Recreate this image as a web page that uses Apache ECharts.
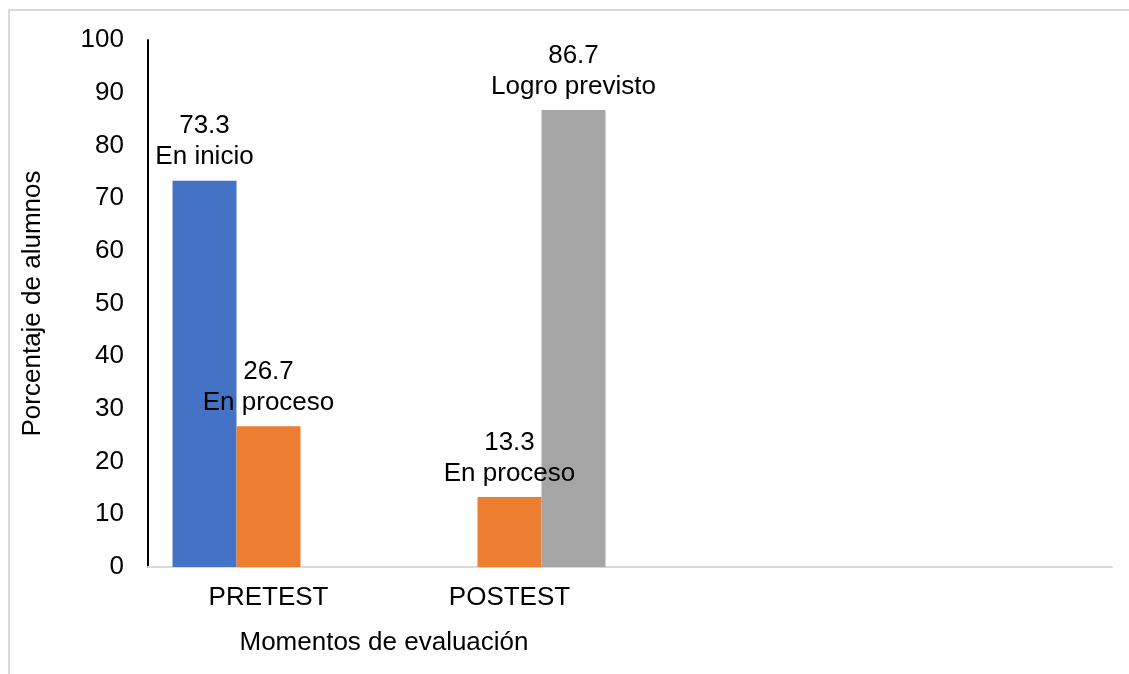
<!DOCTYPE html>
<html>
<head>
<meta charset="utf-8">
<script src="https://cdn.jsdelivr.net/npm/echarts@6/dist/echarts.min.js"></script>
<style>html,body{margin:0;padding:0;background:#fff;}#c{width:1129px;height:674px;}</style>
</head>
<body>
<div id="c"></div>
<script>
const categories = ['PRETEST', 'POSTEST', '', ''];
const seriesNames = ['En inicio', 'En proceso', 'Logro previsto'];
const enInicio = [73.3, null, null, null];
const enProceso = [26.7, 13.3, null, null];
const logroPrevisto = [null, 86.7, null, null];
const yTicks = [0, 100, 10];

const colors = ['#4472C4', '#ED7D31', '#A5A5A5'];
const font = 'Liberation Sans, Arial, sans-serif';
const chart = echarts.init(document.getElementById('c'), null, {renderer: 'canvas'});

function bar(name, data, color) {
  return {
    name: name,
    type: 'bar',
    data: data,
    barWidth: 64,
    barGap: '0%',
    itemStyle: {color: color},
    label: {
      show: true,
      position: 'top',
      distance: 8,
      formatter: p => p.value == null ? '' : p.value.toFixed(1) + '\n' + p.seriesName,
      color: '#000',
      fontSize: 26,
      lineHeight: 31,
      fontFamily: font
    }
  };
}

chart.setOption({
  animation: false,
  grid: {left: 148, right: 17, top: 40, bottom: 107},
  xAxis: {
    type: 'category',
    data: categories,
    axisLine: {lineStyle: {color: '#D9D9D9', width: 2}},
    axisTick: {show: false},
    axisLabel: {color: '#000', fontSize: 26, fontFamily: font, margin: 18}
  },
  yAxis: {
    type: 'value',
    min: yTicks[0], max: yTicks[1], interval: yTicks[2],
    name: 'Porcentaje de alumnos',
    nameLocation: 'middle',
    nameGap: 102,
    nameTextStyle: {color: '#000', fontSize: 26, fontFamily: font},
    axisLine: {show: true, lineStyle: {color: '#000', width: 2}},
    axisTick: {show: false},
    splitLine: {show: false},
    axisLabel: {color: '#000', fontSize: 26, fontFamily: font, margin: 24}
  },
  series: [
    bar(seriesNames[0], enInicio, colors[0]),
    bar(seriesNames[1], enProceso, colors[1]),
    bar(seriesNames[2], logroPrevisto, colors[2])
  ],
  graphic: [
    {type: 'rect', x: 9, y: 10, shape: {width: 1200, height: 700}, style: {fill: 'none', stroke: '#D9D9D9', lineWidth: 2}, silent: true},
    {type: 'text', x: 384, y: 643, style: {text: 'Momentos de evaluación', fill: '#000', fontSize: 26, fontFamily: font, align: 'center', verticalAlign: 'middle'}}
  ]
});
</script>
</body>
</html>
